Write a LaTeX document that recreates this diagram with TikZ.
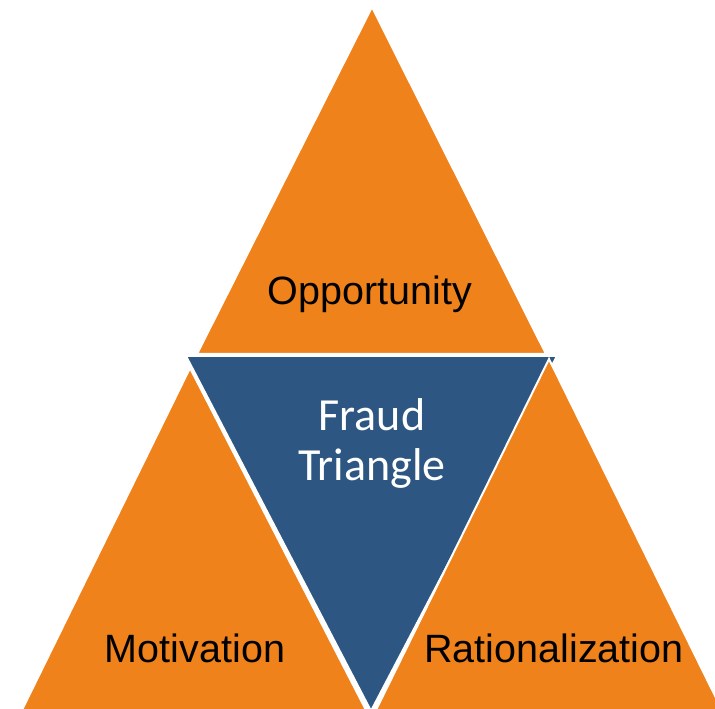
\documentclass[tikz,border=0pt]{standalone}
\usepackage{fontspec}
\setmainfont{Liberation Sans}
\newfontfamily\calibrifont{Carlito}
\definecolor{fraudorange}{RGB}{239,130,27}
\definecolor{fraudblue}{RGB}{45,87,130}
\tikzset{
  orangetri/.style={fill=fraudorange, draw=white, line width=2pt, line join=miter},
  bluetri/.style={fill=fraudblue, draw=white, line width=2pt, line join=miter},
  sidelabel/.style={anchor=base, font=\fontsize{39.5}{47}\selectfont, text=black},
  centerlabel/.style={anchor=base, align=center, text=white,
    font=\calibrifont\fontsize{46}{50}\selectfont}
}
\begin{document}
\begin{tikzpicture}[x=1pt,y=1pt]
        \useasboundingbox (0,0) rectangle (715,709);
        \clip (0,0) rectangle (715,709);
        % corners of the four triangles
        \coordinate (optop) at (372,702);
        \coordinate (opleft) at (197,355);
        \coordinate (opright) at (546,355);
        \coordinate (frleft) at (186,353);
        \coordinate (frright) at (557,353);
        \coordinate (frbottom) at (371,-2);
        \coordinate (motop) at (190,341);
        \coordinate (moleft) at (21,-3);
        \coordinate (moright) at (367,-3);
        \coordinate (ratop) at (549,350);
        \coordinate (raleft) at (375,-3);
        \coordinate (raright) at (723,-3);
        \draw[orangetri] (optop) -- (opleft) -- (opright) -- cycle;
        \draw[bluetri] (frleft) -- (frright) -- (frbottom) -- cycle;
        \draw[orangetri] (motop) -- (moleft) -- (moright) -- cycle;
        \draw[orangetri] (ratop) -- (raleft) -- (raright) -- cycle;
        \node[sidelabel] (opportunity) at (370,404) {Opportunity};
        \node[centerlabel] (fraud) at (372,228) {Fraud\\Triangle};
        \node[sidelabel] (motivation) at (195,46) {Motivation};
        \node[sidelabel] (rationalization) at (554,46) {Rationalization};
      \end{tikzpicture}
\end{document}
